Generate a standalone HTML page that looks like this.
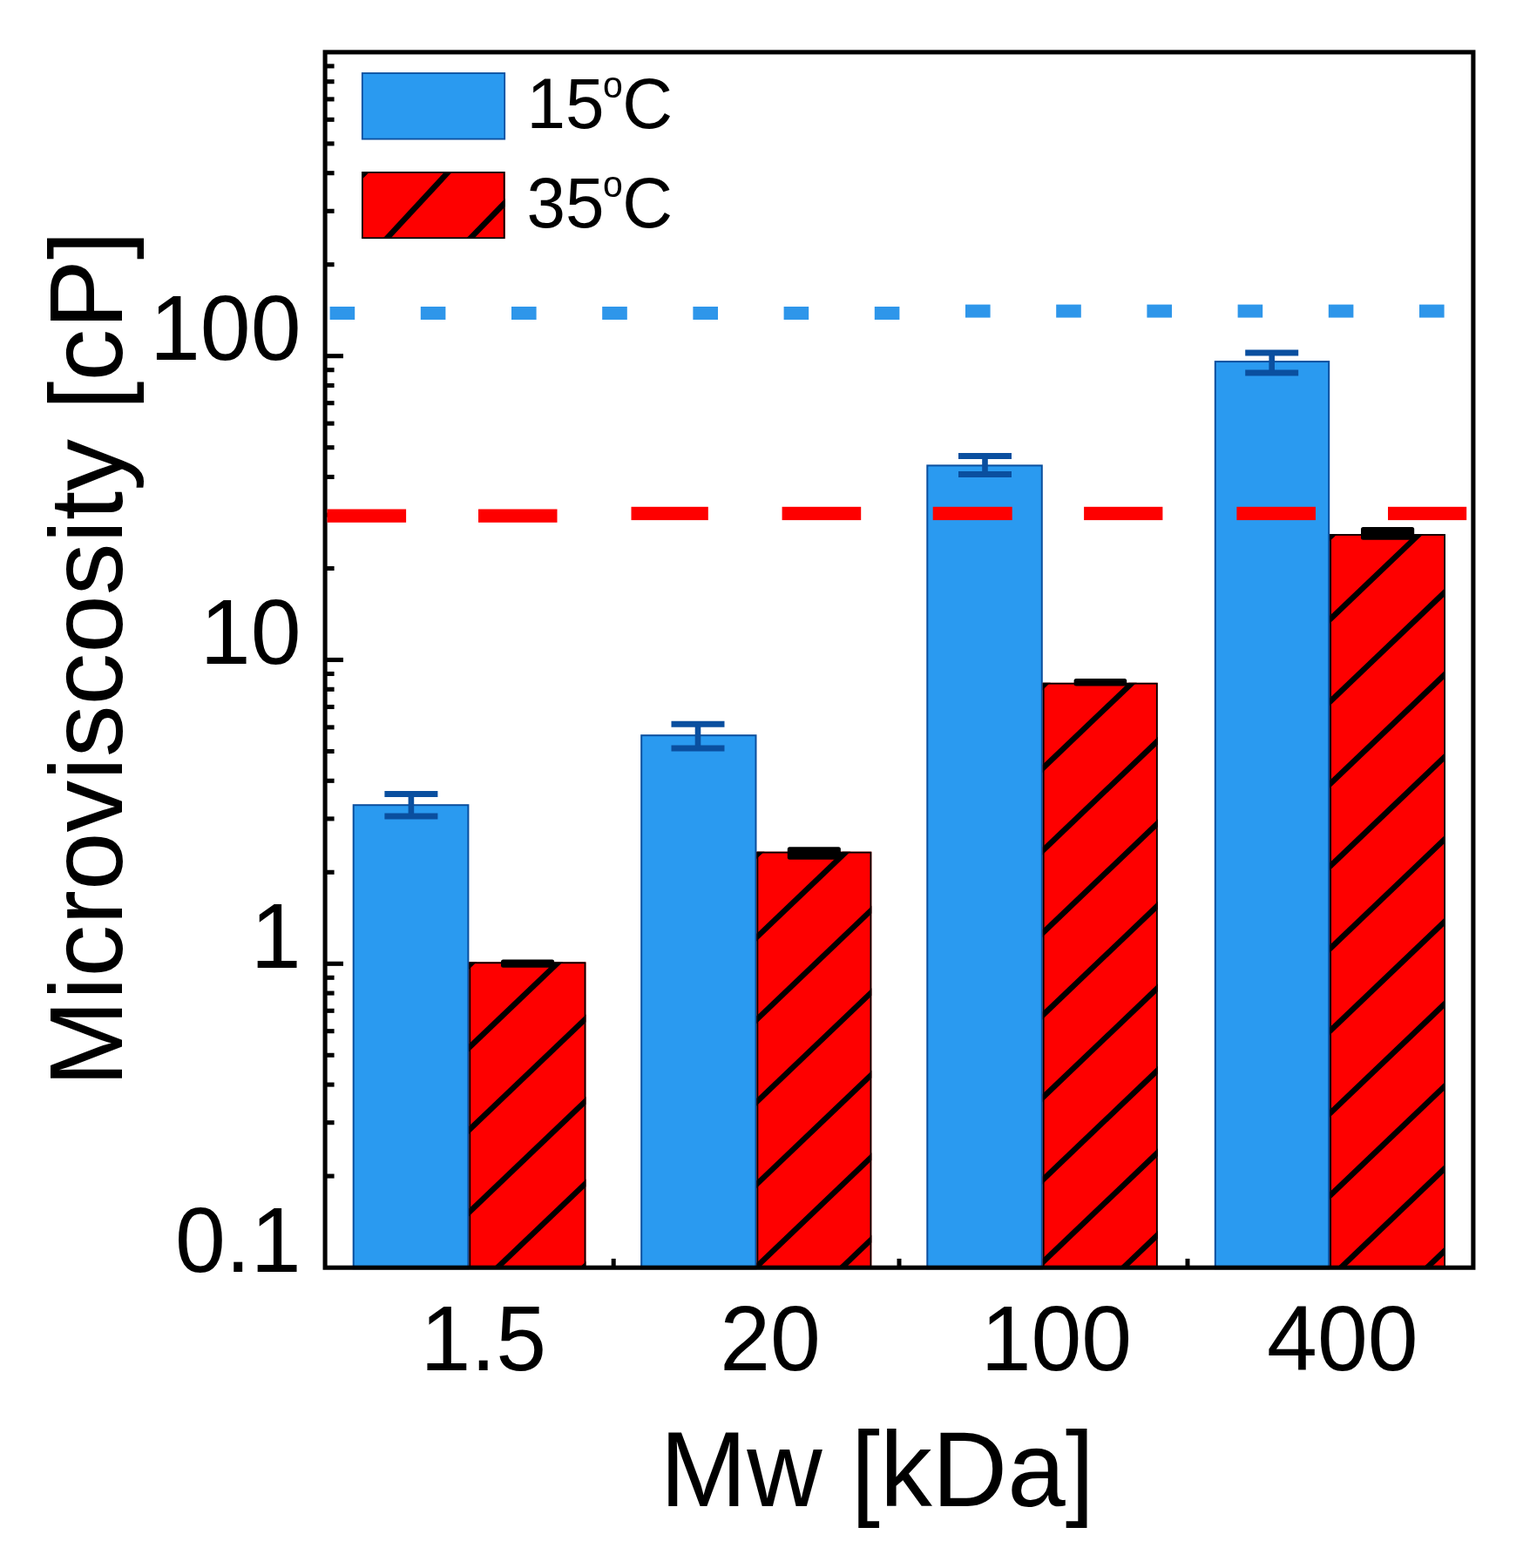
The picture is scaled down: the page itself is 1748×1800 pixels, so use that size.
<!DOCTYPE html>
<html lang="en"><head><meta charset="utf-8"><title>Microviscosity vs Mw</title>
<style>html,body{margin:0;padding:0;background:#fff}body{width:1748px;height:1800px;overflow:hidden}svg{display:block}text{font-family:"Liberation Sans",sans-serif;fill:#000}</style>
</head><body>
<svg width="1748" height="1800" viewBox="0 0 1748 1800">
<rect x="0" y="0" width="1748" height="1800" fill="#ffffff"/>
<defs>
<clipPath id="rc0"><rect x="538.4" y="1104.4" width="134.0" height="350.8"/></clipPath>
<clipPath id="rc1"><rect x="868.5" y="977.7" width="131.8" height="477.5"/></clipPath>
<clipPath id="rc2"><rect x="1196.8" y="783.8" width="131.9" height="671.4"/></clipPath>
<clipPath id="rc3"><rect x="1526.2" y="613.1" width="132.8" height="842.1"/></clipPath>
<clipPath id="lc"><rect x="415" y="197" width="164.6" height="77"/></clipPath>
</defs>
<rect x="405.7" y="924.2" width="131.7" height="532.0" fill="#2a9af0" stroke="#0b4f9e" stroke-width="2"/>
<rect x="736.2" y="844.2" width="131.3" height="612.0" fill="#2a9af0" stroke="#0b4f9e" stroke-width="2"/>
<rect x="1064.3" y="534.4" width="131.5" height="921.8" fill="#2a9af0" stroke="#0b4f9e" stroke-width="2"/>
<rect x="1394.8" y="415.1" width="130.4" height="1041.1" fill="#2a9af0" stroke="#0b4f9e" stroke-width="2"/>
<rect x="538.4" y="1104.4" width="134.0" height="350.8" fill="#fe0000"/>
<g clip-path="url(#rc0)" stroke="#000" stroke-width="6.4" stroke-linecap="butt">
<line x1="528.4" y1="1117.7" x2="682.4" y2="970.6"/>
<line x1="528.4" y1="1212.2" x2="682.4" y2="1065.1"/>
<line x1="528.4" y1="1306.7" x2="682.4" y2="1159.6"/>
<line x1="528.4" y1="1401.2" x2="682.4" y2="1254.1"/>
<line x1="528.4" y1="1495.7" x2="682.4" y2="1348.6"/>
<line x1="528.4" y1="1590.2" x2="682.4" y2="1443.1"/>
</g>
<rect x="539.3" y="1105.3" width="132.2" height="350.8" fill="none" stroke="#000" stroke-width="1.8"/>
<rect x="868.5" y="977.7" width="131.8" height="477.5" fill="#fe0000"/>
<g clip-path="url(#rc1)" stroke="#000" stroke-width="6.4" stroke-linecap="butt">
<line x1="858.5" y1="991.0" x2="1010.3" y2="846.0"/>
<line x1="858.5" y1="1085.5" x2="1010.3" y2="940.5"/>
<line x1="858.5" y1="1180.0" x2="1010.3" y2="1035.0"/>
<line x1="858.5" y1="1274.5" x2="1010.3" y2="1129.5"/>
<line x1="858.5" y1="1369.0" x2="1010.3" y2="1224.0"/>
<line x1="858.5" y1="1463.5" x2="1010.3" y2="1318.5"/>
<line x1="858.5" y1="1558.0" x2="1010.3" y2="1413.0"/>
</g>
<rect x="869.4" y="978.6" width="130.0" height="477.5" fill="none" stroke="#000" stroke-width="1.8"/>
<rect x="1196.8" y="783.8" width="131.9" height="671.4" fill="#fe0000"/>
<g clip-path="url(#rc2)" stroke="#000" stroke-width="6.4" stroke-linecap="butt">
<line x1="1186.8" y1="797.0" x2="1338.7" y2="652.0"/>
<line x1="1186.8" y1="891.5" x2="1338.7" y2="746.5"/>
<line x1="1186.8" y1="986.0" x2="1338.7" y2="841.0"/>
<line x1="1186.8" y1="1080.5" x2="1338.7" y2="935.5"/>
<line x1="1186.8" y1="1175.0" x2="1338.7" y2="1030.0"/>
<line x1="1186.8" y1="1269.5" x2="1338.7" y2="1124.5"/>
<line x1="1186.8" y1="1364.0" x2="1338.7" y2="1219.0"/>
<line x1="1186.8" y1="1458.5" x2="1338.7" y2="1313.5"/>
<line x1="1186.8" y1="1553.0" x2="1338.7" y2="1408.0"/>
</g>
<rect x="1197.7" y="784.7" width="130.1" height="671.4" fill="none" stroke="#000" stroke-width="1.8"/>
<rect x="1526.2" y="613.1" width="132.8" height="842.1" fill="#fe0000"/>
<g clip-path="url(#rc3)" stroke="#000" stroke-width="6.4" stroke-linecap="butt">
<line x1="1516.2" y1="626.4" x2="1669.0" y2="480.4"/>
<line x1="1516.2" y1="720.9" x2="1669.0" y2="574.9"/>
<line x1="1516.2" y1="815.4" x2="1669.0" y2="669.4"/>
<line x1="1516.2" y1="909.9" x2="1669.0" y2="763.9"/>
<line x1="1516.2" y1="1004.4" x2="1669.0" y2="858.4"/>
<line x1="1516.2" y1="1098.9" x2="1669.0" y2="952.9"/>
<line x1="1516.2" y1="1193.4" x2="1669.0" y2="1047.4"/>
<line x1="1516.2" y1="1287.9" x2="1669.0" y2="1141.9"/>
<line x1="1516.2" y1="1382.4" x2="1669.0" y2="1236.4"/>
<line x1="1516.2" y1="1476.9" x2="1669.0" y2="1330.9"/>
<line x1="1516.2" y1="1571.4" x2="1669.0" y2="1425.4"/>
</g>
<rect x="1527.1" y="614.0" width="131.0" height="842.1" fill="none" stroke="#000" stroke-width="1.8"/>
<g stroke="#000" fill="none">
<rect x="373.1" y="59.9" width="1317.8" height="1395.3" stroke-width="5.1"/>
<line x1="374.7" y1="1350.1" x2="383.6" y2="1350.1" stroke-width="5.1"/>
<line x1="374.7" y1="1288.7" x2="383.6" y2="1288.7" stroke-width="5.1"/>
<line x1="374.7" y1="1245.1" x2="383.6" y2="1245.1" stroke-width="5.1"/>
<line x1="374.7" y1="1211.3" x2="383.6" y2="1211.3" stroke-width="5.1"/>
<line x1="374.7" y1="1183.7" x2="383.6" y2="1183.7" stroke-width="5.1"/>
<line x1="374.7" y1="1160.3" x2="383.6" y2="1160.3" stroke-width="5.1"/>
<line x1="374.7" y1="1140.1" x2="383.6" y2="1140.1" stroke-width="5.1"/>
<line x1="374.7" y1="1122.3" x2="383.6" y2="1122.3" stroke-width="5.1"/>
<line x1="374.7" y1="1106.3" x2="394.0" y2="1106.3" stroke-width="5.1"/>
<line x1="374.7" y1="1001.3" x2="383.6" y2="1001.3" stroke-width="5.1"/>
<line x1="374.7" y1="939.9" x2="383.6" y2="939.9" stroke-width="5.1"/>
<line x1="374.7" y1="896.3" x2="383.6" y2="896.3" stroke-width="5.1"/>
<line x1="374.7" y1="862.5" x2="383.6" y2="862.5" stroke-width="5.1"/>
<line x1="374.7" y1="834.9" x2="383.6" y2="834.9" stroke-width="5.1"/>
<line x1="374.7" y1="811.5" x2="383.6" y2="811.5" stroke-width="5.1"/>
<line x1="374.7" y1="791.3" x2="383.6" y2="791.3" stroke-width="5.1"/>
<line x1="374.7" y1="773.5" x2="383.6" y2="773.5" stroke-width="5.1"/>
<line x1="374.7" y1="757.5" x2="394.0" y2="757.5" stroke-width="5.1"/>
<line x1="374.7" y1="652.5" x2="383.6" y2="652.5" stroke-width="5.1"/>
<line x1="374.7" y1="591.1" x2="383.6" y2="591.1" stroke-width="5.1"/>
<line x1="374.7" y1="547.5" x2="383.6" y2="547.5" stroke-width="5.1"/>
<line x1="374.7" y1="513.7" x2="383.6" y2="513.7" stroke-width="5.1"/>
<line x1="374.7" y1="486.1" x2="383.6" y2="486.1" stroke-width="5.1"/>
<line x1="374.7" y1="462.7" x2="383.6" y2="462.7" stroke-width="5.1"/>
<line x1="374.7" y1="442.5" x2="383.6" y2="442.5" stroke-width="5.1"/>
<line x1="374.7" y1="424.7" x2="383.6" y2="424.7" stroke-width="5.1"/>
<line x1="374.7" y1="408.7" x2="394.0" y2="408.7" stroke-width="5.1"/>
<line x1="374.7" y1="303.7" x2="383.6" y2="303.7" stroke-width="5.1"/>
<line x1="374.7" y1="242.3" x2="383.6" y2="242.3" stroke-width="5.1"/>
<line x1="374.7" y1="198.7" x2="383.6" y2="198.7" stroke-width="5.1"/>
<line x1="374.7" y1="164.9" x2="383.6" y2="164.9" stroke-width="5.1"/>
<line x1="374.7" y1="137.3" x2="383.6" y2="137.3" stroke-width="5.1"/>
<line x1="374.7" y1="113.9" x2="383.6" y2="113.9" stroke-width="5.1"/>
<line x1="374.7" y1="93.7" x2="383.6" y2="93.7" stroke-width="5.1"/>
<line x1="374.7" y1="75.9" x2="383.6" y2="75.9" stroke-width="5.1"/>
<line x1="704.2" y1="1455.2" x2="704.2" y2="1444.9" stroke-width="5"/>
<line x1="1032.0" y1="1455.2" x2="1032.0" y2="1444.9" stroke-width="5"/>
<line x1="1363.0" y1="1455.2" x2="1363.0" y2="1444.9" stroke-width="5"/>
</g>
<rect x="378.6" y="352.0" width="28.6" height="15" fill="#2e96ea"/>
<rect x="482.8" y="352.0" width="28.6" height="15" fill="#2e96ea"/>
<rect x="587.0" y="352.0" width="28.6" height="15" fill="#2e96ea"/>
<rect x="691.2" y="352.0" width="28.6" height="15" fill="#2e96ea"/>
<rect x="795.4" y="352.0" width="28.6" height="15" fill="#2e96ea"/>
<rect x="899.6" y="352.0" width="28.6" height="15" fill="#2e96ea"/>
<rect x="1003.8" y="352.0" width="28.6" height="15" fill="#2e96ea"/>
<rect x="1108.0" y="349.6" width="28.6" height="15" fill="#2e96ea"/>
<rect x="1212.2" y="349.6" width="28.6" height="15" fill="#2e96ea"/>
<rect x="1316.4" y="349.6" width="28.6" height="15" fill="#2e96ea"/>
<rect x="1420.6" y="349.6" width="28.6" height="15" fill="#2e96ea"/>
<rect x="1524.8" y="349.6" width="28.6" height="15" fill="#2e96ea"/>
<rect x="1629.0" y="349.6" width="28.6" height="15" fill="#2e96ea"/>
<rect x="375.5" y="584.5" width="90.6" height="15.3" fill="#fe0000"/>
<rect x="549.0" y="584.5" width="90.5" height="15.3" fill="#fe0000"/>
<rect x="724.5" y="581.8" width="88.3" height="15.3" fill="#fe0000"/>
<rect x="897.6" y="581.8" width="90.6" height="15.3" fill="#fe0000"/>
<rect x="1070.7" y="581.8" width="91.0" height="15.3" fill="#fe0000"/>
<rect x="1244.1" y="581.8" width="90.3" height="15.3" fill="#fe0000"/>
<rect x="1419.4" y="581.8" width="90.6" height="15.3" fill="#fe0000"/>
<rect x="1593.0" y="581.8" width="90.2" height="15.3" fill="#fe0000"/>
<g stroke="#0a4f9f" fill="none">
<line x1="471.9" y1="911.4" x2="471.9" y2="937.0" stroke-width="6.6"/>
<line x1="441.4" y1="911.4" x2="502.4" y2="911.4" stroke-width="7"/>
<line x1="441.4" y1="937.0" x2="502.4" y2="937.0" stroke-width="7"/>
</g>
<g stroke="#0a4f9f" fill="none">
<line x1="801.0" y1="831.2" x2="801.0" y2="859.0" stroke-width="6.6"/>
<line x1="770.5" y1="831.2" x2="831.5" y2="831.2" stroke-width="7"/>
<line x1="770.5" y1="859.0" x2="831.5" y2="859.0" stroke-width="7"/>
</g>
<g stroke="#0a4f9f" fill="none">
<line x1="1130.5" y1="523.5" x2="1130.5" y2="544.5" stroke-width="6.6"/>
<line x1="1100.0" y1="523.5" x2="1161.0" y2="523.5" stroke-width="7"/>
<line x1="1100.0" y1="544.5" x2="1161.0" y2="544.5" stroke-width="7"/>
</g>
<g stroke="#0a4f9f" fill="none">
<line x1="1459.7" y1="405.0" x2="1459.7" y2="427.9" stroke-width="6.6"/>
<line x1="1429.2" y1="405.0" x2="1490.2" y2="405.0" stroke-width="7"/>
<line x1="1429.2" y1="427.9" x2="1490.2" y2="427.9" stroke-width="7"/>
</g>
<rect x="575.0" y="1101.4" width="61.2" height="9.4" rx="2.5" ry="2.5" fill="#000"/>
<rect x="903.8" y="972.3" width="61.1" height="14.5" rx="2.5" ry="2.5" fill="#000"/>
<rect x="1232.6" y="778.9" width="60.6" height="8.7" rx="2.5" ry="2.5" fill="#000"/>
<rect x="1562.0" y="604.9" width="61.2" height="14.9" rx="2.5" ry="2.5" fill="#000"/>
<rect x="415.8" y="84" width="163.4" height="75.6" fill="#2a9af0" stroke="#0b4f9e" stroke-width="1.8"/>
<rect x="415" y="197" width="164.6" height="77" fill="#fe0000"/>
<g clip-path="url(#lc)" stroke="#000" stroke-width="6.5">
<line x1="536.4" y1="173.9" x2="422.2" y2="297.1"/>
<line x1="591.7" y1="220.2" x2="527.3" y2="286.4"/>
<line x1="421.2" y1="195.6" x2="413.6" y2="203.2"/>
</g>
<rect x="415.9" y="197.9" width="162.8" height="75.3" fill="none" stroke="#000" stroke-width="1.8"/>
<g font-size="104" text-anchor="end">
<text transform="translate(345.5 413.2) scale(1 1.02)">100</text>
<text transform="translate(345.5 761.8) scale(1 1.02)">10</text>
<text transform="translate(345.5 1111) scale(1 1.02)">1</text>
<text transform="translate(345.5 1460) scale(1 1.02)">0.1</text>
</g>
<g font-size="104">
<text transform="translate(482.5 1573.3) scale(1 1.02)">1.5</text>
<text transform="translate(826.2 1573.3) scale(1 1.02)">20</text>
<text transform="translate(1125.7 1573.3) scale(1 1.02)">100</text>
<text transform="translate(1454.1 1573.3) scale(1 1.02)">400</text>
</g>
<text transform="translate(757.6 1729) scale(1 1.02)" font-size="119.6">Mw [kDa]</text>
<text transform="translate(140.2 1247.6) rotate(-90)" font-size="119.5">Microviscosity [cP]</text>
<text transform="translate(604.5 147.1) scale(1 1.02)" font-size="80">15<tspan x="87.5" dy="-34" font-size="41">o</tspan><tspan x="109.8" dy="34" font-size="80">C</tspan></text>
<text transform="translate(604.5 261.1) scale(1 1.02)" font-size="80">35<tspan x="87.5" dy="-34" font-size="41">o</tspan><tspan x="109.8" dy="34" font-size="80">C</tspan></text>
</svg>
</body></html>
